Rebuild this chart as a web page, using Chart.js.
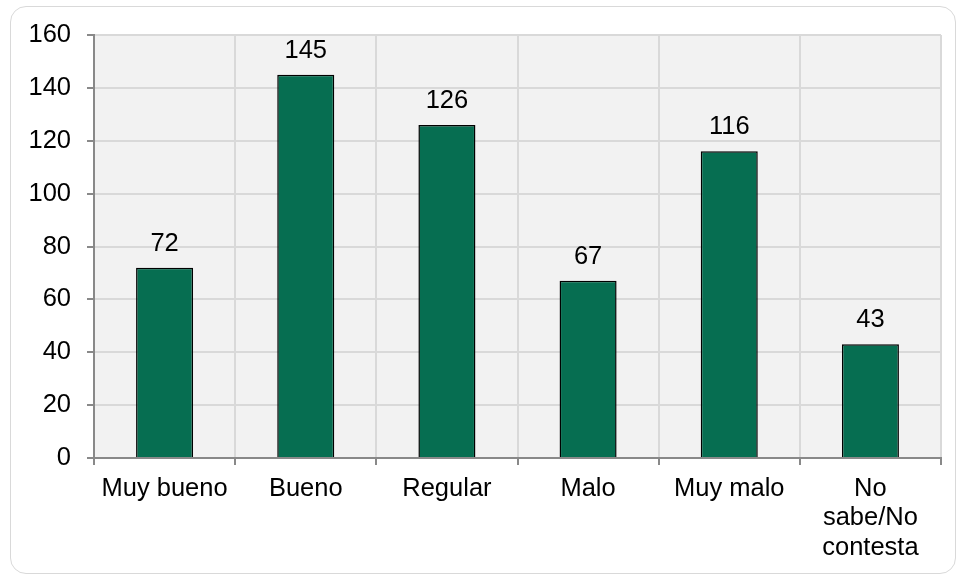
<!DOCTYPE html>
<html>
<head>
<meta charset="utf-8">
<script src="https://cdn.jsdelivr.net/npm/chart.js@4/dist/chart.umd.min.js"></script>
<style>
  html, body { margin: 0; padding: 0; background: #fff; }
  #marco {
    position: absolute; left: 10px; top: 6px; width: 946px; height: 568px;
    border: 1.5px solid #d9d9d9; border-radius: 16px; box-sizing: border-box;
  }
  #lienzo { position: absolute; left: 0; top: 0; width: 958px; height: 577px; }
</style>
</head>
<body>
<div id="marco"></div>
<div id="lienzo"><canvas id="grafico"></canvas></div>
<script>
// Respuestas por categoría
const categorias = ['Muy bueno', 'Bueno', 'Regular', 'Malo', 'Muy malo', ['No', 'sabe/No', 'contesta']];
const respuestas = [72, 145, 126, 67, 116, 43];
const marcasY = [0, 20, 40, 60, 80, 100, 120, 140, 160];

const fuente = { family: 'Liberation Sans, Arial, sans-serif', size: 25.5 };

// fondo gris del área de trazado
const fondoArea = {
  id: 'fondoArea',
  beforeDraw(chart) {
    const { ctx, chartArea: a } = chart;
    ctx.save();
    ctx.fillStyle = '#f2f2f2';
    ctx.fillRect(a.left, a.top, a.right - a.left, a.bottom - a.top);
    ctx.restore();
  }
};

// valores encima de cada barra
const etiquetasValor = {
  id: 'etiquetasValor',
  afterDatasetsDraw(chart) {
    const { ctx } = chart;
    const meta = chart.getDatasetMeta(0);
    ctx.save();
    ctx.font = `${fuente.size}px ${fuente.family}`;
    ctx.fillStyle = '#000';
    ctx.textAlign = 'center';
    ctx.textBaseline = 'alphabetic';
    meta.data.forEach((barra, i) => {
      ctx.fillText(String(respuestas[i]), barra.x, barra.y - 17);
    });
    ctx.restore();
  }
};

new Chart(document.getElementById('grafico'), {
  type: 'bar',
  data: {
    labels: categorias,
    datasets: [{
      data: respuestas,
      backgroundColor: '#066e51',
      borderColor: '#000',
      borderWidth: 1.5,
      barPercentage: 0.404,
      categoryPercentage: 1
    }]
  },
  options: {
    responsive: true,
    maintainAspectRatio: false,
    animation: false,
    layout: { padding: { left: 0, top: 35, right: 17, bottom: 0 } },
    plugins: { legend: { display: false }, tooltip: { enabled: false } },
    scales: {
      x: {
        grid: { color: '#d9d9d9', lineWidth: 2, tickColor: '#898989', tickLength: 7, offset: true },
        border: { color: '#898989', width: 2 },
        ticks: { color: '#000', font: { ...fuente, lineHeight: 1.16 }, padding: 9, maxRotation: 0, autoSkip: false },
        afterFit(s) { s.height = 119; }
      },
      y: {
        min: 0,
        max: 160,
        afterBuildTicks(s) { s.ticks = marcasY.map(v => ({ value: v })); },
        grid: { color: '#d9d9d9', lineWidth: 2, tickColor: '#898989', tickLength: 7 },
        border: { color: '#898989', width: 2 },
        ticks: { color: '#000', font: fuente, padding: 16 },
        afterFit(s) { s.width = 94; }
      }
    }
  },
  plugins: [fondoArea, etiquetasValor]
});
</script>
</body>
</html>
